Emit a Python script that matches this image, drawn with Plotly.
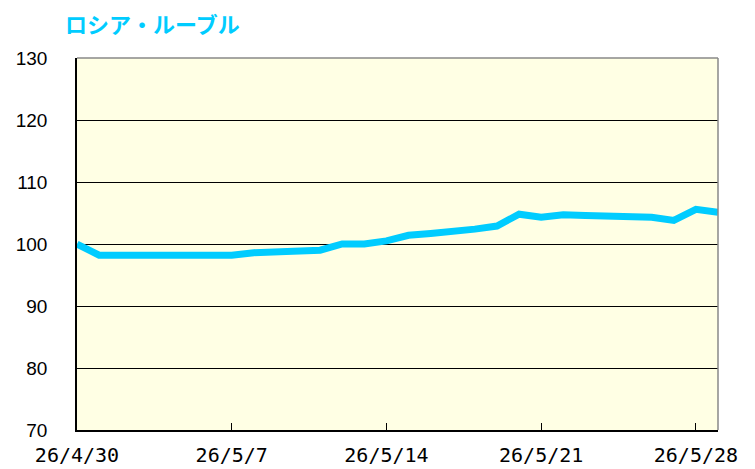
import plotly.graph_objects as go
import pandas as pd

dates = pd.date_range("2026-04-30", "2026-05-29", freq="D")
values = [100.0, 98.2, 98.2, 98.2, 98.2, 98.2, 98.2, 98.2,
          98.6, 98.7, 98.8, 99.0, 100.0, 100.0, 100.5, 101.4,
          101.7, 102.0, 102.4, 102.9, 104.8, 104.3, 104.7, 104.6,
          104.5, 104.4, 104.3, 103.8, 105.6, 105.1]
tick_dates = ["2026-04-30", "2026-05-07", "2026-05-14", "2026-05-21", "2026-05-28"]
tick_labels = ["26/4/30", "26/5/7", "26/5/14", "26/5/21", "26/5/28"]
y_ticks = [70, 80, 90, 100, 110, 120, 130]

fig = go.Figure()
fig.add_trace(go.Scatter(x=dates, y=values, mode="lines",
                         line=dict(color="#00CCFF", width=7), showlegend=False))

fig.update_layout(
    width=755, height=469,
    margin=dict(l=77, r=37, t=58, b=39),
    paper_bgcolor="white",
    plot_bgcolor="#FFFFE4",
    title=dict(text="<b>ロシア・ルーブル</b>", x=65/755, xanchor="left", y=1-25/469, yanchor="middle",
               font=dict(family="Noto Sans CJK JP", size=22, color="#00CCFF")),
    xaxis=dict(range=["2026-04-30", "2026-05-29"], tickvals=tick_dates, ticktext=tick_labels,
               ticks="inside", ticklen=7, tickcolor="black", showgrid=False,
               showline=True, linecolor="black", linewidth=1.5, mirror=False,
               tickfont=dict(family="DejaVu Sans Mono", size=20, color="black"),
               ticklabelstandoff=6, automargin=False,
               zeroline=False),
    yaxis=dict(range=[70, 130], tickvals=y_ticks, showgrid=True, gridcolor="black", gridwidth=1,
               showline=True, linecolor="black", linewidth=1.5, ticks="", ticklen=0,
               tickfont=dict(family="Liberation Sans, Arial", size=19, color="black"),
               ticklabelstandoff=24, automargin=False,
               zeroline=False),
)
fig.add_shape(type="line", xref="paper", yref="paper", x0=0, x1=1, y0=1, y1=1,
              line=dict(color="#888888", width=1.5))
fig.add_shape(type="line", xref="paper", yref="paper", x0=1, x1=1, y0=0, y1=1,
              line=dict(color="#888888", width=1.5))
fig.write_html("out.html", config={"displayModeBar": False},
               post_script="document.body.style.margin='0';document.body.style.overflow='hidden';")
